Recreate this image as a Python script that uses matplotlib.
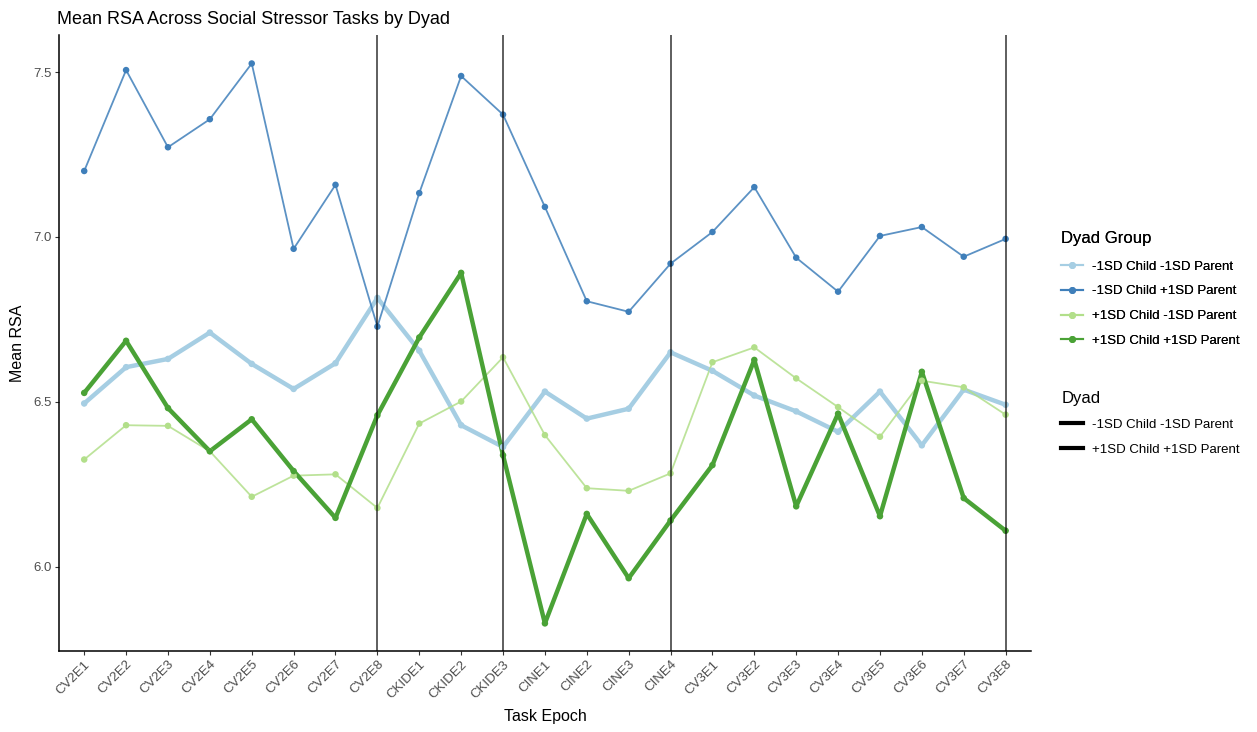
import matplotlib
matplotlib.use('Agg')
import matplotlib.pyplot as plt
from matplotlib.lines import Line2D

plt.rcParams['font.family'] = ['Liberation Sans', 'DejaVu Sans']

epochs = ['CV2E1', 'CV2E2', 'CV2E3', 'CV2E4', 'CV2E5', 'CV2E6', 'CV2E7', 'CV2E8',
          'CKIDE1', 'CKIDE2', 'CKIDE3',
          'CINE1', 'CINE2', 'CINE3', 'CINE4',
          'CV3E1', 'CV3E2', 'CV3E3', 'CV3E4', 'CV3E5', 'CV3E6', 'CV3E7', 'CV3E8']

# -1SD Child -1SD Parent
low_low = [6.495, 6.605, 6.630, 6.710, 6.615, 6.539, 6.617, 6.815,
           6.655, 6.429, 6.363,
           6.531, 6.449, 6.479, 6.650,
           6.594, 6.519, 6.471, 6.409, 6.531, 6.368, 6.537, 6.491]
# -1SD Child +1SD Parent
low_high = [7.200, 7.506, 7.272, 7.357, 7.526, 6.964, 7.158, 6.728,
            7.133, 7.488, 7.371,
            7.091, 6.805, 6.773, 6.919,
            7.015, 7.151, 6.937, 6.834, 7.003, 7.030, 6.940, 6.994]
# +1SD Child -1SD Parent
high_low = [6.325, 6.429, 6.427, 6.350, 6.212, 6.276, 6.280, 6.178,
            6.434, 6.501, 6.635,
            6.399, 6.238, 6.230, 6.283,
            6.620, 6.665, 6.571, 6.484, 6.394, 6.564, 6.544, 6.461]
# +1SD Child +1SD Parent
high_high = [6.527, 6.685, 6.481, 6.350, 6.447, 6.290, 6.148, 6.459,
             6.695, 6.891, 6.338,
             5.828, 6.160, 5.965, 6.140,
             6.308, 6.627, 6.183, 6.464, 6.153, 6.591, 6.208, 6.109]

group_names = ['-1SD Child -1SD Parent', '-1SD Child +1SD Parent',
               '+1SD Child -1SD Parent', '+1SD Child +1SD Parent']
group_colors = ['#a6cee3', '#3f7fba', '#b2df8a', '#4aa236']
task_breaks = ['CV2E8', 'CKIDE3', 'CINE4', 'CV3E8']

fig = plt.figure(figsize=(12.57, 7.32), dpi=100)
ax = fig.add_axes([0.047, 0.111, 0.773, 0.841])

x = list(range(len(epochs)))
series = [low_low, low_high, high_low, high_high]
thick = [True, False, False, True]
for vals, col, is_thick in zip(series, group_colors, thick):
    lw = 3.2 if is_thick else 1.3
    alpha = 1.0 if is_thick else 0.85
    ax.plot(x, vals, color=col, linewidth=lw, alpha=alpha, zorder=2)
    ax.scatter(x, vals, color=col, s=22, zorder=3, edgecolors='none')

for b in task_breaks:
    ax.axvline(epochs.index(b), color='black', linewidth=1.1, alpha=0.8, zorder=4)

ax.set_xlim(-0.6, len(epochs) - 1 + 0.6)
ax.set_ylim(5.745, 7.612)
ax.set_yticks([6.0, 6.5, 7.0, 7.5])
ax.set_yticklabels(['6.0', '6.5', '7.0', '7.5'])
ax.set_xticks(x)
ax.set_xticklabels(epochs, rotation=45, ha='right', rotation_mode='anchor')
ax.tick_params(axis='both', colors='#333333', labelcolor='#4d4d4d',
               labelsize=9.5, length=3, width=0.8, pad=2.5)
for s in ['top', 'right']:
    ax.spines[s].set_visible(False)
for s in ['left', 'bottom']:
    ax.spines[s].set_linewidth(1.1)

ax.set_title('Mean RSA Across Social Stressor Tasks by Dyad', loc='left',
             fontsize=13, x=-0.002, pad=8)
ax.set_xlabel('Task Epoch', fontsize=11.5, labelpad=6)
ax.set_ylabel('Mean RSA', fontsize=11.5, labelpad=6)

handles1 = [Line2D([0], [0], color=c, marker='o', markersize=4, linewidth=1.5)
            for c in group_colors]
leg1 = fig.legend(handles1, group_names, title='Dyad Group', loc='upper left',
                  bbox_to_anchor=(0.835, 0.700), frameon=False, fontsize=9.5,
                  title_fontsize=12, alignment='left', handlelength=1.6,
                  handletextpad=0.7, labelspacing=0.95)
leg1._legend_box.sep = 10
fig.add_artist(leg1)

handles2 = [Line2D([0], [0], color='black', linewidth=3) for _ in range(2)]
fig.legend(handles2, ['-1SD Child -1SD Parent', '+1SD Child +1SD Parent'],
           title='Dyad', loc='upper left', bbox_to_anchor=(0.835, 0.482),
           frameon=False, fontsize=9.5, title_fontsize=12, alignment='left',
           handlelength=1.6, handletextpad=0.7, labelspacing=0.95)

fig.savefig('out.png', dpi=100)
